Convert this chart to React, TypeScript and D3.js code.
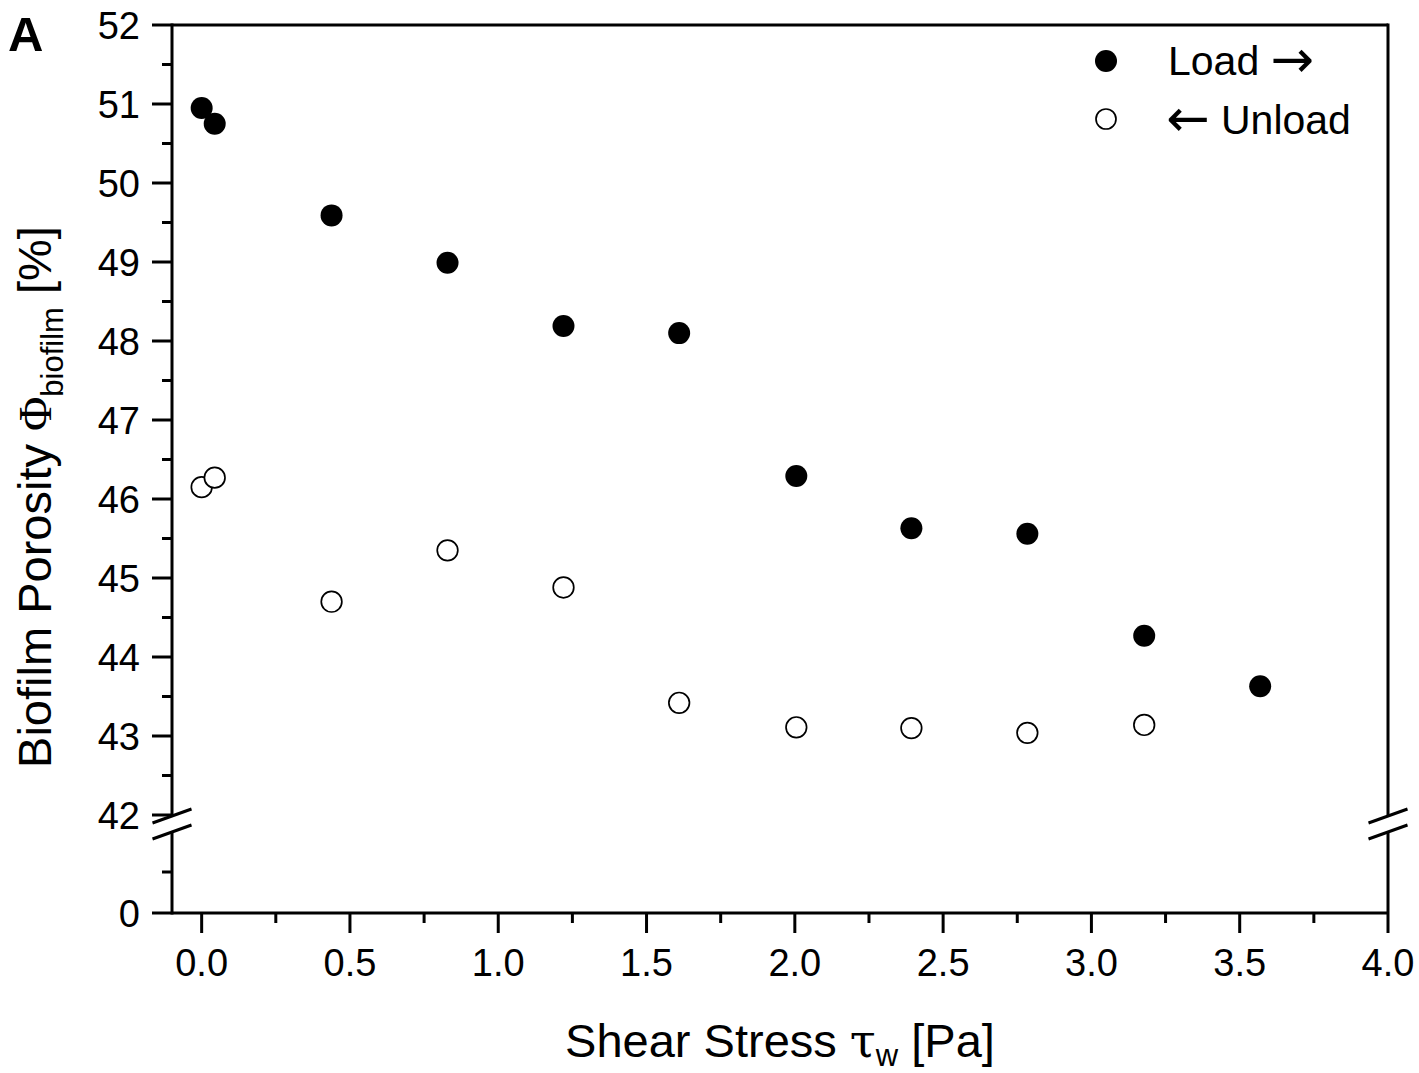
import React from "react";
import * as d3 from "d3";

const loadX = [0.0, 0.044, 0.438, 0.829, 1.22, 1.61, 2.005, 2.393, 2.784, 3.178, 3.569];
const loadY = [50.95, 50.75, 49.59, 48.99, 48.19, 48.1, 46.29, 45.63, 45.56, 44.27, 43.63];
const unloadX = [0.0, 0.044, 0.438, 0.829, 1.22, 1.61, 2.005, 2.393, 2.784, 3.178];
const unloadY = [46.15, 46.27, 44.7, 45.35, 44.88, 43.42, 43.11, 43.1, 43.04, 43.14];
const xTicks = [0, 0.5, 1.0, 1.5, 2.0, 2.5, 3.0, 3.5, 4.0];
const xMinor = [0.25, 0.75, 1.25, 1.75, 2.25, 2.75, 3.25, 3.75];
const yTopTicks = [42, 43, 44, 45, 46, 47, 48, 49, 50, 51, 52];
const yTopMinor = [42.5, 43.5, 44.5, 45.5, 46.5, 47.5, 48.5, 49.5, 50.5, 51.5];
const yBotTicks = [0];
const yBotMinor = [5];

export default function App() {
  const left = 172, right = 1388, top = 25, bottom = 913;
  const x = d3.scaleLinear().domain([-0.1, 4.0]).range([left, right]);
  const yTop = d3.scaleLinear().domain([42, 52]).range([815, top]);
  const yBot = d3.scaleLinear().domain([0, 10]).range([bottom, 831]);
  const font = "Arial, 'Liberation Sans', sans-serif";
  const arrowFont = "'DejaVu Sans', sans-serif";
  const sw = 3;
  const brk1 = yTop(42) + 1;
  const brk2 = brk1 + 16;
  const slash = (cx: number, cy: number) => (
    <line x1={cx - 19.5} y1={cy + 7} x2={cx + 19.5} y2={cy - 7} stroke="#000" strokeWidth={sw} />
  );
  return (
    <svg width={1419} height={1073} style={{ position: "absolute", left: 0, top: 0, background: "#fff" }}
      fontFamily={font}>
      <rect x={0} y={0} width={1419} height={1073} fill="#fff" />
      <line x1={left} y1={top} x2={right} y2={top} stroke="#000" strokeWidth={sw} />
      <line x1={left} y1={bottom} x2={right} y2={bottom} stroke="#000" strokeWidth={sw} />
      <line x1={left} y1={top - 1.5} x2={left} y2={brk1} stroke="#000" strokeWidth={sw} />
      <line x1={left} y1={brk2} x2={left} y2={bottom + 1.5} stroke="#000" strokeWidth={sw} />
      <line x1={right} y1={top - 1.5} x2={right} y2={brk1} stroke="#000" strokeWidth={sw} />
      <line x1={right} y1={brk2} x2={right} y2={bottom} stroke="#000" strokeWidth={sw} />
      {slash(left, brk1)}
      {slash(left, brk2)}
      {slash(right, brk1)}
      {slash(right, brk2)}
      {yTopTicks.map((t) => (
        <g key={"yt" + t}>
          <line x1={left - 20} x2={left} y1={yTop(t)} y2={yTop(t)} stroke="#000" strokeWidth={sw} />
          <text x={left - 32} y={yTop(t)} dy="0.36em" textAnchor="end" fontSize={38}>{t}</text>
        </g>
      ))}
      {yTopMinor.map((t) => (
        <line key={"ytm" + t} x1={left - 10} x2={left} y1={yTop(t)} y2={yTop(t)} stroke="#000" strokeWidth={sw} />
      ))}
      {yBotTicks.map((t) => (
        <g key={"yb" + t}>
          <line x1={left - 20} x2={left} y1={yBot(t)} y2={yBot(t)} stroke="#000" strokeWidth={sw} />
          <text x={left - 32} y={yBot(t)} dy="0.36em" textAnchor="end" fontSize={38}>{t}</text>
        </g>
      ))}
      {yBotMinor.map((t) => (
        <line key={"ybm" + t} x1={left - 10} x2={left} y1={yBot(t)} y2={yBot(t)} stroke="#000" strokeWidth={sw} />
      ))}
      {xTicks.map((t) => (
        <g key={"xt" + t}>
          <line x1={x(t)} x2={x(t)} y1={bottom} y2={bottom + 20} stroke="#000" strokeWidth={sw} />
          <text x={x(t)} y={976} textAnchor="middle" fontSize={38}>{t.toFixed(1)}</text>
        </g>
      ))}
      {xMinor.map((t) => (
        <line key={"xm" + t} x1={x(t)} x2={x(t)} y1={bottom} y2={bottom + 10} stroke="#000" strokeWidth={sw} />
      ))}
      {loadX.map((v, i) => (
        <circle key={"l" + i} cx={x(v)} cy={yTop(loadY[i])} r={11} fill="#000" />
      ))}
      {unloadX.map((v, i) => (
        <circle key={"u" + i} cx={x(v)} cy={yTop(unloadY[i])} r={10.3} fill="#fff" stroke="#000" strokeWidth={1.7} />
      ))}
      <circle cx={1106} cy={61} r={11} fill="#000" />
      <circle cx={1106} cy={119} r={10} fill="#fff" stroke="#000" strokeWidth={1.7} />
      <text x={1168} y={75} fontSize={41}>Load <tspan fontFamily={arrowFont} fontSize={52} dy={2}>→</tspan></text>
      <text x={1166} y={134} fontSize={41}><tspan fontFamily={arrowFont} fontSize={52} dy={2}>←</tspan><tspan dy={-2}> Unload</tspan></text>
      <text x={780} y={1057} textAnchor="middle" fontSize={47}>
        Shear Stress <tspan fontFamily="'DejaVu Serif', serif">τ</tspan>
        <tspan fontSize={31} dy={9}>w</tspan>
        <tspan dy={-9}> [Pa]</tspan>
      </text>
      <text transform={`translate(51,497) rotate(-90)`} textAnchor="middle" fontSize={47}>
        Biofilm Porosity <tspan fontFamily="'Liberation Serif', serif">Φ</tspan>
        <tspan fontSize={31} dy={12}>biofilm</tspan>
        <tspan dy={-12}> [%]</tspan>
      </text>
      <text x={8} y={51} fontSize={49} fontWeight="bold">A</text>
    </svg>
  );
}
